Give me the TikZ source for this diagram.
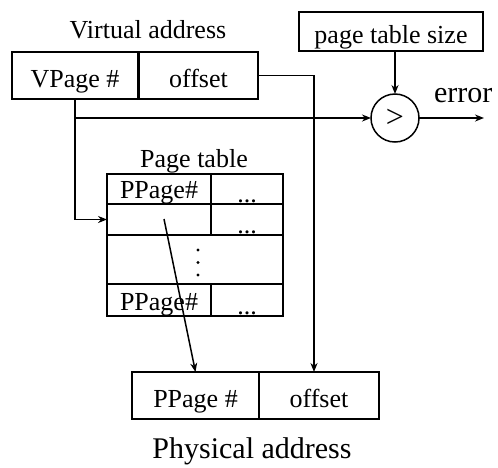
\documentclass[tikz,border=0pt]{standalone}
\usepackage{fontspec}
\setmainfont{Liberation Serif}
\usetikzlibrary{arrows.meta}

\begin{document}
\begin{tikzpicture}[x=1pt,y=-1pt,
  every node/.style={font=\fontsize{26}{30}\selectfont, inner sep=0pt, outer sep=0pt},
  field/.style={draw, line width=1.5pt, minimum height=47pt, text height=23pt, text depth=0pt},
  cell/.style={draw, line width=1.7pt, text height=19pt, text depth=0pt},
  link/.style={line width=1.5pt},
  arr/.style={link, -{Stealth[length=9pt,width=7pt]}},
  big/.style={font=\fontsize{30}{34}\selectfont}]
\useasboundingbox (0,0) rectangle (498,467);

% virtual address
\node[anchor=base] at (148,38) {Virtual address};
\node[field, minimum width=126pt] (vpage) at (75,75.5) {VPage \#};
\node[field, minimum width=119pt] (voff) at (198.5,75.5) {offset};

% bound check
\node[field, minimum width=184pt, minimum height=39pt] (pts) at (391,31.5) {page table size};
\node[draw, circle, line width=1.5pt, minimum size=48pt, font=\fontsize{32}{34}\selectfont] (cmp) at (395,118) {>};
\node[big, anchor=base west] (err) at (434,102) {error};
\coordinate (errend) at (484,118);

% page table
\node[anchor=base] at (194,167) {Page table};
\node[cell, minimum width=104pt, minimum height=30pt] (c11) at (159,189) {PPage\#};
\node[cell, minimum width=72pt, minimum height=30pt] (c12) at (247,189) {};
\node[cell, minimum width=104pt, minimum height=31pt] (c21) at (159,219.5) {};
\node[cell, minimum width=72pt, minimum height=31pt] (c22) at (247,219.5) {};
\node[cell, minimum width=176pt, minimum height=49pt] (cdots) at (195,259.5) {};
\node[cell, minimum width=104pt, minimum height=32pt, text height=20pt] (c41) at (159,300) {PPage\#};
\node[cell, minimum width=72pt, minimum height=32pt] (c42) at (247,300) {};
\foreach \c in {c12,c22,c42}
  \node[anchor=base] at ([yshift=2pt]\c.south) {...};
\foreach \yy in {250,262.5,275}
  \fill (198,\yy) circle (1.7pt);

% physical address
\node[field, minimum width=127pt] (ppage) at (195.5,395.5) {PPage \#};
\node[field, minimum width=120pt] (poff) at (319,395.5) {offset};
\node[big, anchor=base] at (252,458) {Physical address};

% connectors
\coordinate (split) at (vpage.south |- cmp.west);
\coordinate (rowin) at (vpage.south |- c21.west);
\coordinate (entry) at (164,219);
\draw[link] (vpage.south) -- (split);
\draw[arr] (split) -- (cmp.west);
\draw[arr] (split) -- (rowin) -- (c21.west);
\draw[arr] (pts.south -| cmp.north) -- (cmp.north);
\draw[arr] (cmp.east) -- (errend);
\draw[arr] (voff.east) -| ([xshift=-5pt]poff.north);
\draw[arr] (entry) -- (ppage.north);
\end{tikzpicture}
\end{document}
